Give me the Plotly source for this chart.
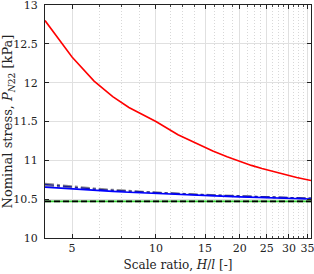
import plotly.graph_objects as go

# ---- data ----
scale_ratio = [4, 5, 6, 7, 8, 9, 10, 12, 14, 16, 18, 20, 22, 24, 26, 28, 30, 32, 34, 36]

red_solid = [12.80, 12.33, 12.02, 11.82, 11.68, 11.58, 11.50, 11.33, 11.215, 11.12,
             11.045, 10.985, 10.935, 10.895, 10.86, 10.83, 10.805, 10.78, 10.76, 10.74]

blue_solid = [10.655, 10.630, 10.612, 10.600, 10.590, 10.581, 10.573, 10.560, 10.550, 10.542,
              10.536, 10.530, 10.525, 10.520, 10.516, 10.512, 10.510, 10.507, 10.505, 10.503]

blue_dashdot = [10.690, 10.655, 10.630, 10.614, 10.602, 10.592, 10.584, 10.570, 10.560, 10.552,
                10.545, 10.539, 10.534, 10.530, 10.526, 10.522, 10.519, 10.517, 10.515, 10.513]

gray_dashdot_a = [10.700, 10.665, 10.640, 10.622, 10.607, 10.596, 10.587, 10.572, 10.561, 10.552,
                  10.545, 10.539, 10.533, 10.528, 10.524, 10.520, 10.517, 10.514, 10.511, 10.509]

gray_dashdot_b = [10.675, 10.648, 10.628, 10.613, 10.601, 10.591, 10.582, 10.568, 10.557, 10.549,
                  10.542, 10.536, 10.531, 10.526, 10.522, 10.518, 10.515, 10.512, 10.509, 10.507]

reference_value = 10.472
black_dashed = [reference_value] * len(scale_ratio)
green_line = [reference_value] * len(scale_ratio)

x_tick_vals = [5, 10, 15, 20, 25, 30, 35]
x_tick_text = ["5", "10", "15", "20", "25", "30", "35"]
x_minor_vals = [6.25, 7.5, 8.75, 11.25, 12.5, 13.75, 16.25, 17.5, 18.75, 21.25, 22.5, 23.75,
                26.25, 27.5, 28.75, 31.25, 32.5, 33.75]
y_tick_vals = [10, 10.5, 11, 11.5, 12, 12.5, 13]
y_tick_text = ["10", "10.5", "11", "11.5", "12", "12.5", "13"]

FONT = "DejaVu Serif"

fig = go.Figure()

fig.add_trace(go.Scatter(x=scale_ratio, y=gray_dashdot_a, mode="lines",
                         line=dict(color="#8c8c8c", width=1.8, dash="dashdot")))
fig.add_trace(go.Scatter(x=scale_ratio, y=gray_dashdot_b, mode="lines",
                         line=dict(color="#8c8c8c", width=1.8, dash="dashdot")))
fig.add_trace(go.Scatter(x=scale_ratio, y=blue_dashdot, mode="lines",
                         line=dict(color="#1a1aa0", width=1.2, dash="dashdot")))
fig.add_trace(go.Scatter(x=scale_ratio, y=blue_solid, mode="lines",
                         line=dict(color="#0000ff", width=1.6)))
fig.add_trace(go.Scatter(x=scale_ratio, y=green_line, mode="lines",
                         line=dict(color="#33cc33", width=1.6)))
fig.add_trace(go.Scatter(x=scale_ratio, y=black_dashed, mode="lines",
                         line=dict(color="#000000", width=1.6, dash="6px,3px")))
fig.add_trace(go.Scatter(x=scale_ratio, y=red_solid, mode="lines",
                         line=dict(color="#ff0000", width=1.6)))

fig.update_layout(
    width=314, height=274,
    margin=dict(l=45, r=3, t=5, b=36, autoexpand=False),
    paper_bgcolor="white", plot_bgcolor="white",
    showlegend=False,
    font=dict(family=FONT, size=11, color="#222222"),
)

fig.update_xaxes(
    type="log", range=[0.60206, 1.55630],
    tickmode="array", tickvals=x_tick_vals, ticktext=x_tick_text,
    ticks="inside", ticklen=4, tickcolor="#222222",
    showline=True, linecolor="#222222", linewidth=1, mirror="ticks",
    showgrid=True, gridcolor="#e0e0e0", gridwidth=1,
    minor=dict(tickmode="array", tickvals=x_minor_vals, ticks="inside", ticklen=2,
               tickcolor="#444444", showgrid=True, gridcolor="#d8d8d8", griddash="1px,2px",
               gridwidth=1),
    zeroline=False, automargin=False,
    ticklabeloverflow="allow",
    tickfont=dict(family=FONT, size=11),
    title=dict(text="Scale ratio, <i>H</i>/<i>l</i> [-]", font=dict(family=FONT, size=12),
               standoff=6),
)

fig.update_yaxes(
    range=[10, 13],
    tickmode="array", tickvals=y_tick_vals, ticktext=y_tick_text,
    ticks="inside", ticklen=4, tickcolor="#222222",
    showline=True, linecolor="#222222", linewidth=1, mirror="ticks",
    showgrid=True, gridcolor="#e0e0e0", gridwidth=1,
    zeroline=False, automargin=False,
    ticklabeloverflow="allow",
    tickfont=dict(family=FONT, size=11),
    ticklabelstandoff=4,
    title=dict(text="Nominal stress, <i>P</i><sub><i>N</i>22</sub> [kPa]",
               font=dict(family=FONT, size=13), standoff=1),
)

fig.write_html("out.html", config={"displayModeBar": False},
               post_script="document.body.style.margin='0';")
